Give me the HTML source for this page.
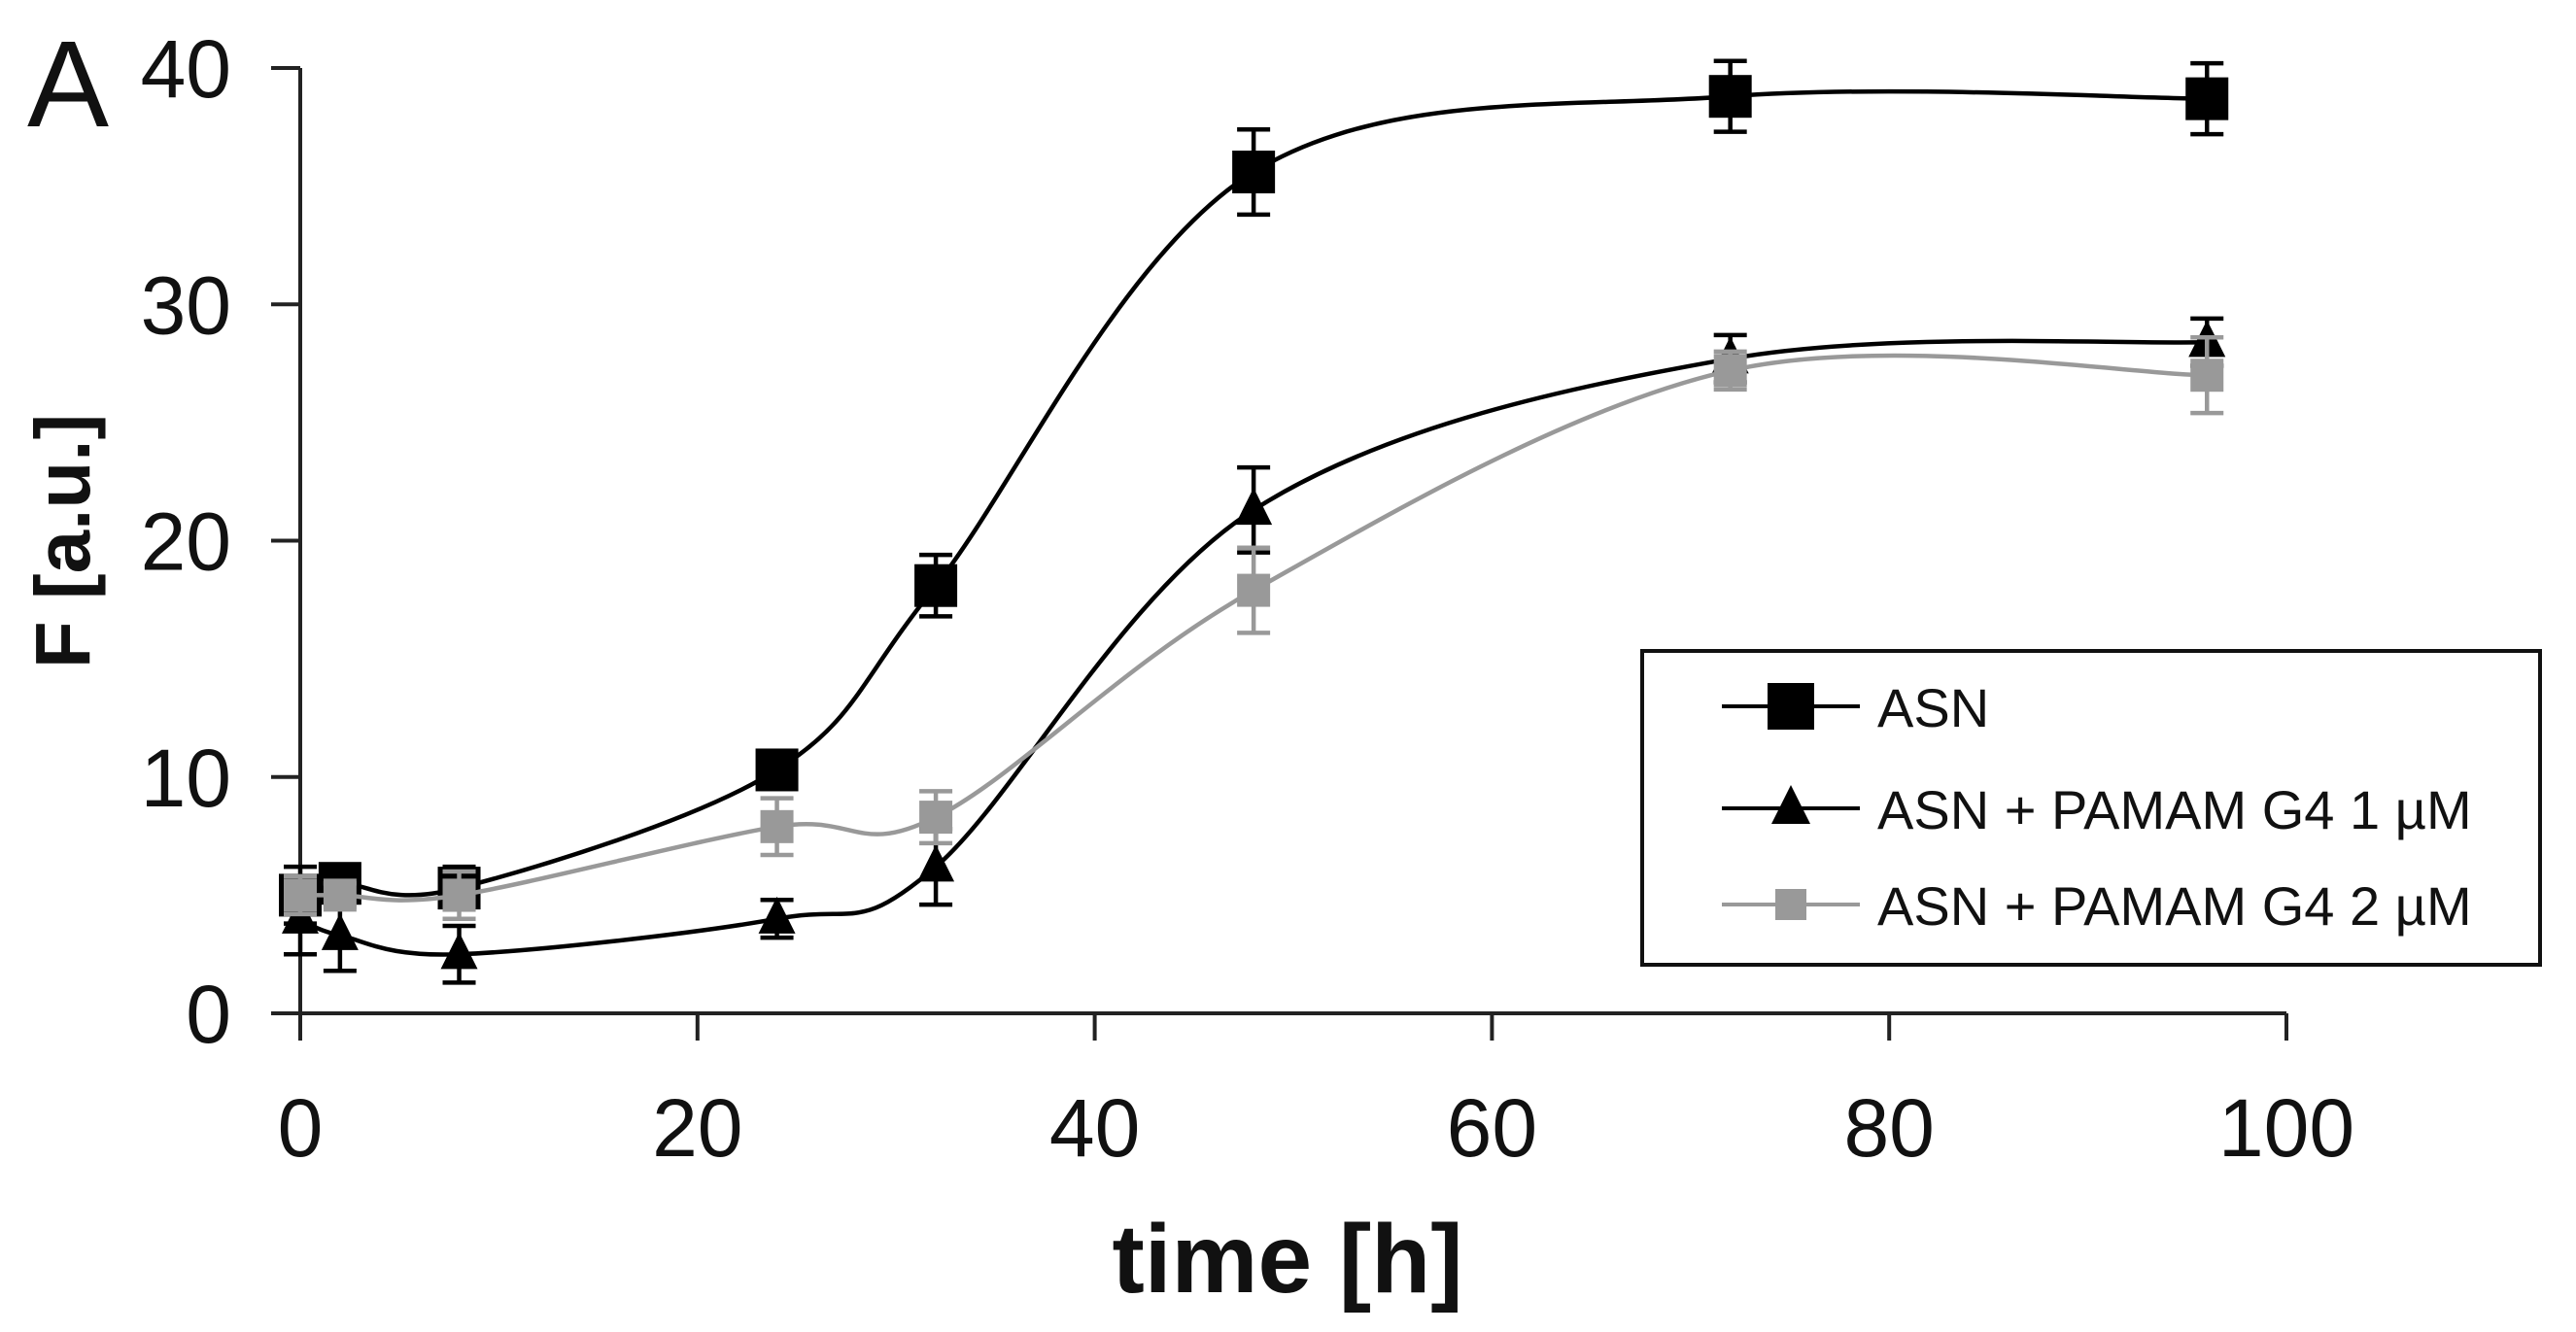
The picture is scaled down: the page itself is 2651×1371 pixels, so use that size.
<!DOCTYPE html>
<html><head><meta charset="utf-8"><style>
html,body{margin:0;padding:0;background:#fff;}
svg{display:block;font-family:"Liberation Sans",Arial,sans-serif;}
</style></head><body>
<svg id="chart" width="2651" height="1371" viewBox="0 0 2651 1371" xmlns="http://www.w3.org/2000/svg">
<text x="28" y="130" font-size="126" fill="#111">A</text>
<g id="axes"></g>
<g id="series"></g>
<text transform="translate(92,557) rotate(-90)" text-anchor="middle" font-size="80" font-weight="bold" fill="#111">F [a.u.]</text>
<text x="1325" y="1330" text-anchor="middle" font-size="100" font-weight="bold" fill="#111">time [h]</text>
<g>
<rect x="1690" y="670" width="924" height="323" fill="#fff" stroke="#111" stroke-width="4"/>
<g id="legend-items"></g>
</g>
</svg>
<script>
const times = [0, 2, 8, 24, 32, 48, 72, 96];
const asnValues = [5.0, 5.5, 5.3, 10.3, 18.1, 35.6, 38.8, 38.7];
const asnErrors = [1.2, 0.5, 0.9, 0.8, 1.3, 1.8, 1.5, 1.5];
const g4oneValues = [4.0, 3.3, 2.5, 4.0, 6.2, 21.3, 27.7, 28.4];
const g4oneErrors = [1.5, 1.5, 1.2, 0.8, 1.6, 1.8, 1.0, 1.0];
const g4twoValues = [5.0, 5.0, 5.0, 7.9, 8.3, 17.9, 27.2, 27.0];
const g4twoErrors = [0.8, 0.5, 1.0, 1.2, 1.1, 1.8, 0.8, 1.6];
const xTicks = [0, 20, 40, 60, 80, 100];
const yTicks = [0, 10, 20, 30, 40];
const legendLabels = ["ASN", "ASN + PAMAM G4 1 µM", "ASN + PAMAM G4 2 µM"];

const NS = "http://www.w3.org/2000/svg";
const X0 = 309, X1 = 2353, Y0 = 1043, Y1 = 70;
const xs = v => X0 + (v - 0) / 100 * (X1 - X0);
const ys = v => Y0 - v / 40 * (Y0 - Y1);
function mk(tag, attrs, parent) {
  const e = document.createElementNS(NS, tag);
  for (const k in attrs) e.setAttribute(k, attrs[k]);
  parent.appendChild(e);
  return e;
}
const axes = document.getElementById("axes");
let yAxis = mk("line", {x1: X0, y1: Y1, x2: X0, y2: Y0 + 28, stroke: "#222", "stroke-width": 4}, axes);


let xAxis = mk("line", {x1: X0 - 30, y1: Y0, x2: X1, y2: Y0, stroke: "#222", "stroke-width": 4}, axes);


yTicks.forEach(t => {
  const tk = mk("line", {x1: X0 - 30, y1: ys(t), x2: X0, y2: ys(t), stroke: "#222", "stroke-width": 4}, axes);
  
  
  const lb = mk("text", {x: 238, y: ys(t) + 30, "text-anchor": "end", "font-size": 84, fill: "#111"}, axes);
  lb.textContent = t;
  
  
});
xTicks.forEach(t => {
  const tk = mk("line", {x1: xs(t), y1: Y0, x2: xs(t), y2: Y0 + 28, stroke: "#222", "stroke-width": 4}, axes);
  
  
  const lb = mk("text", {x: xs(t), y: 1190, "text-anchor": "middle", "font-size": 84, fill: "#111"}, axes);
  lb.textContent = t;
  
  
});

function smoothPath(pts) {
  let d = "M" + pts[0][0] + "," + pts[0][1];
  for (let i = 0; i < pts.length - 1; i++) {
    const p0 = pts[i - 1] || pts[i], p1 = pts[i], p2 = pts[i + 1], p3 = pts[i + 2] || p2;
    const t = 0.5 / 3;
    const c1 = [p1[0] + (p2[0] - p0[0]) * t, p1[1] + (p2[1] - p0[1]) * t];
    const c2 = [p2[0] - (p3[0] - p1[0]) * t, p2[1] - (p3[1] - p1[1]) * t];
    d += " C" + c1 + " " + c2 + " " + p2;
  }
  return d;
}
function marker(parent, type, cx, cy, color, size) {
  let m;
  if (type === "square") {
    m = mk("rect", {x: cx - size / 2, y: cy - size / 2, width: size, height: size, fill: color}, parent);
  } else {
    const h = size;
    m = mk("polygon", {points: `${cx},${cy - h * 0.6} ${cx - h / 2},${cy + h * 0.4} ${cx + h / 2},${cy + h * 0.4}`, fill: color}, parent);
  }
  return m;
}
const seriesDefs = [
  {name: "asn", vals: asnValues, errs: asnErrors, color: "#000", type: "square", size: 44},
  {name: "g4-1um", vals: g4oneValues, errs: g4oneErrors, color: "#000", type: "triangle", size: 38},
  {name: "g4-2um", vals: g4twoValues, errs: g4twoErrors, color: "#999", type: "square", size: 34}
];
const sg = document.getElementById("series");
seriesDefs.forEach(s => {
  const g = mk("g", {}, sg);
  
  
  const pts = times.map((t, i) => [xs(t), ys(s.vals[i])]);
  const p = mk("path", {d: smoothPath(pts), fill: "none", stroke: s.color, "stroke-width": 4.5}, g);
  
  
  times.forEach((t, i) => {
    const cx = xs(t), hi = ys(s.vals[i] + s.errs[i]), lo = ys(s.vals[i] - s.errs[i]);
    const eb = mk("path", {d: `M${cx},${hi} V${lo} M${cx - 17},${hi} H${cx + 17} M${cx - 17},${lo} H${cx + 17}`, stroke: s.color, "stroke-width": 4.5, fill: "none"}, g);
    
    
    const m = marker(g, s.type, cx, ys(s.vals[i]), s.color, s.size);
    
    
  });
});
const li = document.getElementById("legend-items");
const legendY = [727, 832, 931];
const legendSizes = [48, 40, 32];
seriesDefs.forEach((s, i) => {
  const g = mk("g", {}, li);
  
  
  mk("line", {x1: 1772, y1: legendY[i], x2: 1914, y2: legendY[i], stroke: s.color, "stroke-width": 4}, g);
  marker(g, s.type, 1843, legendY[i], s.color, legendSizes[i]);
  const tx = mk("text", {x: 1932, y: legendY[i] + 21, "font-size": 56, fill: "#111"}, g);
  tx.textContent = legendLabels[i];
});
</script>
</body></html>
